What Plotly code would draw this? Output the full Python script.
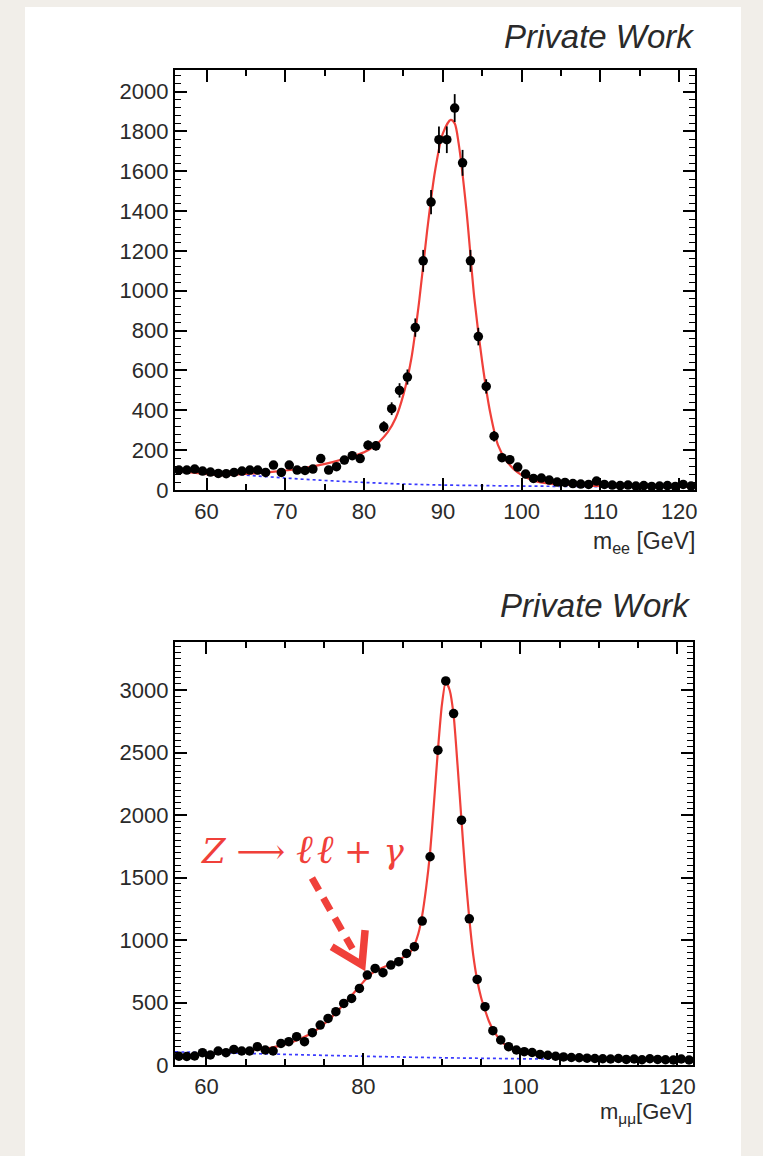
import plotly.graph_objects as go

# ---------------------------------------------------------------- data
# 1 GeV bins from 56 to 122 GeV
bin_centres = [m + 0.5 for m in range(56, 122)]

# electron channel: event counts and uncertainties per bin
ee_counts = [100, 100, 105, 95, 90, 83, 82, 88, 95, 100,
             100, 88, 125, 88, 125, 100, 98, 105, 158, 100,
             117, 150, 172, 158, 225, 222, 317, 408, 500, 567,
             815, 1150, 1445, 1758, 1758, 1917, 1642, 1150, 770, 520,
             270, 162, 152, 115, 80, 58, 60, 50, 40, 38,
             32, 30, 28, 45, 28, 25, 22, 25, 20, 22,
             18, 20, 22, 18, 28, 20]
ee_errors = [16, 16, 16, 16, 15, 15, 15, 15, 16, 16,
             16, 15, 18, 15, 18, 16, 16, 16, 20, 16,
             17, 20, 21, 20, 24, 24, 28, 32, 36, 38,
             46, 55, 61, 67, 67, 70, 65, 55, 44, 36,
             26, 20, 20, 17, 14, 12, 12, 11, 10, 10,
             9, 9, 8, 10, 8, 8, 8, 8, 7, 8,
             7, 7, 8, 7, 8, 7]

# electron channel: fitted signal+background and background-only curves
ee_fit_mass = [56, 58, 60, 62, 64, 66, 68, 70, 72, 74, 76, 78, 80, 81, 82, 83,
               84, 85, 86, 87, 88, 89, 90, 91, 91.5, 92, 93, 94, 95, 96, 97,
               98, 99, 100, 101, 102, 104, 106, 108, 112, 122]
ee_fit_value = [100, 88, 80, 75, 78, 83, 90, 98, 108, 122, 140, 163, 190, 212,
                245, 290, 360, 480, 660, 950, 1300, 1600, 1790, 1858, 1840, 1740,
                1400, 960, 640, 390, 225, 150, 105, 75, 55, 42, 30, 25, 22, 19, 16]
ee_bkg_mass = [56, 60, 65, 70, 75, 80, 85, 90, 100, 110, 122]
ee_bkg_value = [105, 92, 75, 60, 48, 38, 30, 25, 20, 17, 15]

# muon channel: event counts per bin
mm_counts = [70, 68, 72, 99, 80, 112, 99, 125, 112, 112,
             147, 120, 112, 173, 187, 227, 187, 259, 320, 373,
             427, 493, 533, 613, 720, 773, 739, 800, 827, 893,
             947, 1152, 1667, 2520, 3074, 2813, 1960, 1170, 685, 467,
             275, 200, 147, 120, 107, 100, 85, 78, 70, 65,
             60, 58, 55, 52, 50, 48, 52, 45, 48, 42,
             50, 45, 42, 40, 48, 40]

# muon channel: fitted signal+background and background-only curves
mm_fit_mass = [56, 58, 60, 62, 64, 66, 68, 70, 72, 74, 76, 78, 80, 81, 82, 83,
               84, 85, 86, 86.5, 87, 87.5, 88, 88.5, 89, 89.5, 90, 90.5, 91,
               91.5, 92, 92.5, 93, 93.5, 94, 94.5, 95, 95.5, 96, 96.5, 97,
               97.5, 98, 99, 100, 102, 104, 106, 110, 115, 122]
mm_fit_value = [72, 78, 88, 100, 110, 120, 135, 165, 210, 280, 385, 520, 665,
                730, 768, 795, 825, 860, 905, 960, 1050, 1200, 1420, 1700, 2100,
                2520, 2880, 3070, 3000, 2800, 2400, 1960, 1530, 1170, 880, 680,
                540, 440, 350, 285, 235, 195, 165, 125, 100, 80, 68, 60, 52, 46, 40]
mm_bkg_mass = [56, 60, 70, 80, 90, 100, 110, 122]
mm_bkg_value = [105, 100, 85, 70, 58, 50, 44, 38]

# ---------------------------------------------------------------- styling
W, H = 763, 1156
RED = "#f0403a"
BLUE = "#3a3aff"
FONT = "Liberation Sans, Arial, sans-serif"
TXT = "#2a2a2a"


def px_x(p):
    return p / W


def px_y(p):
    return 1 - p / H


fig = go.Figure()

# electron channel
fig.add_trace(go.Scatter(x=ee_bkg_mass, y=ee_bkg_value, mode="lines",
                         line=dict(color=BLUE, width=1.7, dash="dot", shape="spline"),
                         xaxis="x", yaxis="y", showlegend=False))
fig.add_trace(go.Scatter(x=ee_fit_mass, y=ee_fit_value, mode="lines",
                         line=dict(color=RED, width=2.2, shape="spline", smoothing=0.8),
                         xaxis="x", yaxis="y", showlegend=False))
fig.add_trace(go.Scatter(x=bin_centres, y=ee_counts, mode="markers",
                         marker=dict(color="black", size=9.5),
                         error_y=dict(type="data", array=ee_errors, color="black",
                                      thickness=1.8, width=0),
                         error_x=dict(type="constant", value=0.5, color="black",
                                      thickness=1.8, width=0),
                         xaxis="x", yaxis="y", showlegend=False))

# muon channel
fig.add_trace(go.Scatter(x=mm_bkg_mass, y=mm_bkg_value, mode="lines",
                         line=dict(color=BLUE, width=1.7, dash="dot", shape="spline"),
                         xaxis="x2", yaxis="y2", showlegend=False))
fig.add_trace(go.Scatter(x=mm_fit_mass, y=mm_fit_value, mode="lines",
                         line=dict(color=RED, width=2.2, shape="spline", smoothing=0.6),
                         xaxis="x2", yaxis="y2", showlegend=False))
fig.add_trace(go.Scatter(x=bin_centres, y=mm_counts, mode="markers",
                         marker=dict(color="black", size=9.5),
                         xaxis="x2", yaxis="y2", showlegend=False))

axis_common = dict(showline=True, linecolor="black", linewidth=2.2, mirror="ticks",
                   ticks="inside", tickcolor="black", tickwidth=1.8, ticklen=12,
                   showgrid=False, zeroline=False, automargin=False,
                   tickfont=dict(family=FONT, size=22, color=TXT))

fig.update_layout(
    width=W, height=H,
    margin=dict(l=0, r=0, t=0, b=0, pad=0, autoexpand=False),
    paper_bgcolor="#f1eee9",
    plot_bgcolor="white",
    xaxis=dict(axis_common, domain=[px_x(175), px_x(695)], anchor="y",
               range=[56, 122], tick0=60, dtick=10,
               minor=dict(dtick=5, ticklen=6, tickcolor="black", tickwidth=1.6,
                          ticks="inside")),
    yaxis=dict(axis_common, domain=[px_y(490), px_y(70)], anchor="x",
               range=[0, 2108], tick0=0, dtick=200,
               minor=dict(dtick=40, ticklen=6, tickcolor="black", tickwidth=1.4,
                          ticks="inside")),
    xaxis2=dict(axis_common, domain=[px_x(175), px_x(693)], anchor="y2",
                range=[56, 122], tick0=60, dtick=20,
                minor=dict(dtick=5, ticklen=6, tickcolor="black", tickwidth=1.6,
                           ticks="inside")),
    yaxis2=dict(axis_common, domain=[px_y(1065), px_y(642)], anchor="x2",
                range=[0, 3386], tick0=0, dtick=500,
                minor=dict(dtick=50, ticklen=6, tickcolor="black", tickwidth=1.4,
                           ticks="inside")),
)

# white page card behind everything
fig.add_shape(type="rect", xref="paper", yref="paper", layer="below",
              x0=px_x(25), x1=px_x(741), y0=-0.02, y1=px_y(7),
              fillcolor="white", line=dict(width=0))

# labels
fig.add_annotation(text="<i>Private Work</i>", xref="paper", yref="paper",
                   x=px_x(696), y=px_y(37), xanchor="right", yanchor="middle",
                   showarrow=False, font=dict(family=FONT, size=33, color=TXT))
fig.add_annotation(text="<i>Private Work</i>", xref="paper", yref="paper",
                   x=px_x(692), y=px_y(605), xanchor="right", yanchor="middle",
                   showarrow=False, font=dict(family=FONT, size=33, color=TXT))
fig.add_annotation(text="m<sub>ee</sub> [GeV]", xref="paper", yref="paper",
                   x=px_x(697), y=px_y(542), xanchor="right", yanchor="middle",
                   showarrow=False, font=dict(family=FONT, size=23, color=TXT))
fig.add_annotation(text="m<sub>μμ</sub>[GeV]", xref="paper", yref="paper",
                   x=px_x(694), y=px_y(1113), xanchor="right", yanchor="middle",
                   showarrow=False, font=dict(family=FONT, size=22, color=TXT))

# radiative-tail callout in the muon panel
fig.add_annotation(
    text=("<i>Z</i> ⟶ "
          "<span style='font-size:40px'><i>ℓ</i>&#8202;<i>ℓ</i></span>"
          " + <i>γ</i>"),
    xref="x2", yref="y2", x=59.1, y=1728, xanchor="left", yanchor="middle",
    showarrow=False,
    font=dict(family="DejaVu Serif, Liberation Serif, serif", size=34, color=RED))
fig.add_shape(type="line", xref="x2", yref="y2",
              x0=73.45, y0=1496, x1=78.6, y1=930,
              line=dict(color=RED, width=7, dash="14px,9px"))
fig.add_shape(type="path", xref="x2", yref="y2",
              path="M 75.96,946 L 79.83,800 L 80.22,1080",
              line=dict(color=RED, width=7.5))

fig.write_html("out.html")
